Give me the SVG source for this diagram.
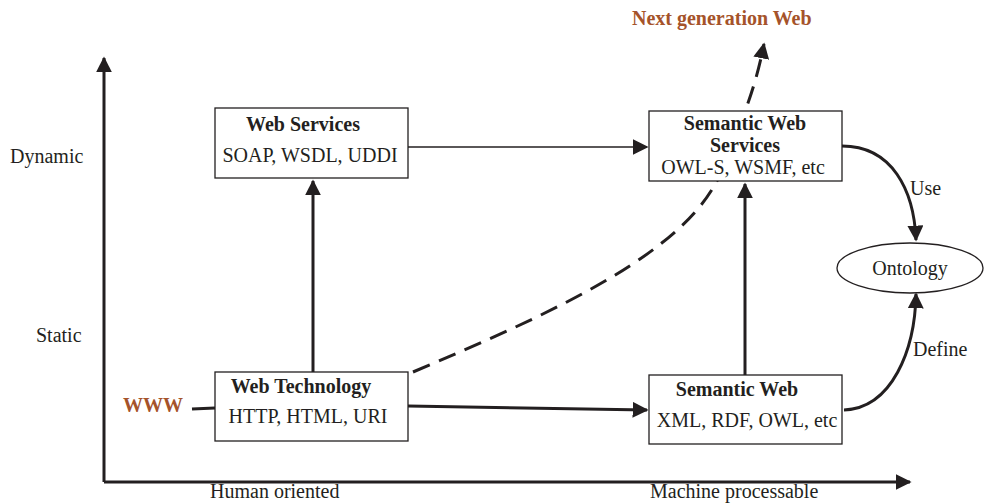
<svg xmlns="http://www.w3.org/2000/svg" width="985" height="503" viewBox="0 0 985 503">
<style>
text{font-family:"Liberation Serif","Times New Roman",serif;font-size:20px;fill:#231f20}
.b{font-weight:bold}
.br{fill:#a5532a;font-weight:bold}
.box{fill:#fff;stroke:#231f20;stroke-width:1.3}
.thick{stroke:#231f20;stroke-width:3;fill:none}
.thin{stroke:#231f20;stroke-width:1.3;fill:none}
</style>
<defs>
<marker id="ahb" viewBox="0 0 10 10" refX="9" refY="5" markerWidth="16" markerHeight="16" markerUnits="userSpaceOnUse" orient="auto"><path d="M0,0 L10,5 L0,10 z" fill="#231f20"/></marker>
</defs>
<g id="axes">
<path class="thick" d="M104,482 L104,58" marker-end="url(#ahb)"/>
<path class="thick" d="M104,482 L910,482" marker-end="url(#ahb)"/>
<text x="10" y="163">Dynamic</text>
<text x="36" y="342">Static</text>
<text x="210" y="498">Human oriented</text>
<text x="650" y="498">Machine processable</text>
</g>
<g id="connectors">
<path class="thick" d="M313,372 L313,181" marker-end="url(#ahb)"/>
<path class="thin" d="M408,147 L647,147" marker-end="url(#ahb)"/>
<path class="thick" d="M408,406 L647,410" marker-end="url(#ahb)"/>
<path class="thick" d="M745,375 L745,184" marker-end="url(#ahb)"/>
<path class="thick" d="M192,409 L215,408"/>
<path class="thick" stroke-dasharray="18,10" d="M413,372 C560,310 690,250 722,170 C742,120 755,90 764,44" marker-end="url(#ahb)"/>
<path class="thick" d="M842,146 C892,146 914,190 916,240" marker-end="url(#ahb)"/>
<path class="thick" d="M844,410 C892,408 915,350 916,294" marker-end="url(#ahb)"/>
<text x="910" y="195">Use</text>
<text x="913" y="356">Define</text>
</g>
<g id="www"><text class="br" x="123" y="412">WWW</text></g>
<g id="next"><text class="br" x="632" y="25">Next generation Web</text></g>
<g id="web-services">
<rect class="box" x="215" y="108" width="193" height="70"/>
<text class="b" x="303" y="131" text-anchor="middle">Web Services</text>
<text x="310" y="162" text-anchor="middle">SOAP, WSDL, UDDI</text>
</g>
<g id="semantic-web-services">
<rect class="box" x="649" y="111" width="193" height="70"/>
<text class="b" x="745" y="130" text-anchor="middle">Semantic Web</text>
<text class="b" x="745" y="152" text-anchor="middle">Services</text>
<text x="743" y="174" text-anchor="middle">OWL-S, WSMF, etc</text>
</g>
<g id="web-technology">
<rect class="box" x="215" y="372" width="193" height="69"/>
<text class="b" x="301" y="393" text-anchor="middle">Web Technology</text>
<text x="308" y="423" text-anchor="middle">HTTP, HTML, URI</text>
</g>
<g id="semantic-web">
<rect class="box" x="649" y="375" width="193" height="69"/>
<text class="b" x="737" y="396" text-anchor="middle">Semantic Web</text>
<text x="747" y="427" text-anchor="middle">XML, RDF, OWL, etc</text>
</g>
<g id="ontology">
<ellipse class="box" cx="910" cy="268" rx="73" ry="25"/>
<text x="910" y="275" text-anchor="middle">Ontology</text>
</g>
</svg>
